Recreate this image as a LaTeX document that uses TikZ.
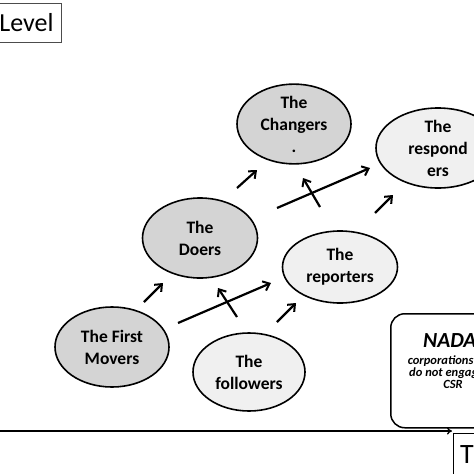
\documentclass[tikz,border=0pt]{standalone}
\usepackage{fontspec}
\setmainfont{Carlito}
\usetikzlibrary{shapes.geometric,arrows.meta}

\tikzset{
    stage/.style={ellipse,draw,line width=1.6pt,inner sep=0pt,align=center,
        font=\fontsize{17.5}{22}\selectfont\bfseries},
    dark/.style={stage,fill=black!17},
    light/.style={stage,fill=black!6},
    move/.style={line width=2.2pt,-{Straight Barb[length=6pt,width=10pt,line width=2pt]}}
}

\begin{document}
\begin{tikzpicture}[x=1pt,y=-1pt]
            \clip (0,0) rectangle (474,474);
            \useasboundingbox (0,0) rectangle (474,474);
            % axes
            \node[draw=black!70,line width=1pt,anchor=east,minimum height=39pt,inner ysep=0pt,
                inner xsep=0pt,font=\fontsize{26}{30}\selectfont] (level) at (62,22.5)
                {\hspace*{30pt}Level\hspace*{8pt}};
            \coordinate (t0) at (-5,431);
            \coordinate (t1) at (452,431);
            \draw[line width=1.3pt,-{To[length=5pt,width=7pt]}] (t0)--(t1);
            \node[draw,line width=1.2pt,anchor=north west,minimum width=60pt,minimum height=60pt] (time) at (453,433) {};
            \node[anchor=base west,inner sep=0pt,font=\fontsize{28}{30}\selectfont] (timetxt) at (460,463) {Time};
            % stages
            \node[dark,minimum width=114pt,minimum height=80pt] (movers) at (112,347) {The First\\Movers};
            \node[light,minimum width=112pt,minimum height=78pt] (followers) at (249,372) {The\\followers};
            \node[dark,minimum width=115pt,minimum height=80pt] (doers) at (200,238) {The\\Doers};
            \node[light,minimum width=115pt,minimum height=72pt] (reporters) at (340,267) {The\\reporters};
            \node[dark,minimum width=114pt,minimum height=78pt] (changers) at (294,124) {The\\Changers\\.};
            \node[light,minimum width=124pt,minimum height=80pt] (responders) at (438,148) {The\\respond\\ers};
            % nada
            \node[draw,line width=1.5pt,rounded corners=14pt,anchor=north west,minimum width=120pt,
                minimum height=114pt] (nada) at (390,313) {};
            \node[anchor=west,inner sep=0pt,font=\fontsize{21.5}{22}\selectfont\bfseries\itshape] (nadatxt) at (423,341) {NADA};
            \node[align=center,font=\fontsize{12.5}{12}\selectfont\bfseries\itshape,anchor=north,inner sep=0pt]
                (nadasub) at (453,356) {corporations that\\do not engage in\\CSR};
            % arrows
            \coordinate (a1) at (144,302); \coordinate (b1) at (163,283);
            \coordinate (a2) at (237,188); \coordinate (b2) at (257,170);
            \coordinate (a3) at (375,213); \coordinate (b3) at (393,195);
            \coordinate (a4) at (277,208); \coordinate (b4) at (370,168);
            \coordinate (a5) at (320,207); \coordinate (b5) at (303,178);
            \coordinate (a6) at (178,323); \coordinate (b6) at (271,283);
            \coordinate (a7) at (237,317); \coordinate (b7) at (218,288);
            \coordinate (a8) at (277,322); \coordinate (b8) at (296,303);
            \foreach \k in {1,...,8}
                \draw[move] (a\k)--(b\k);
\end{tikzpicture}
\end{document}
